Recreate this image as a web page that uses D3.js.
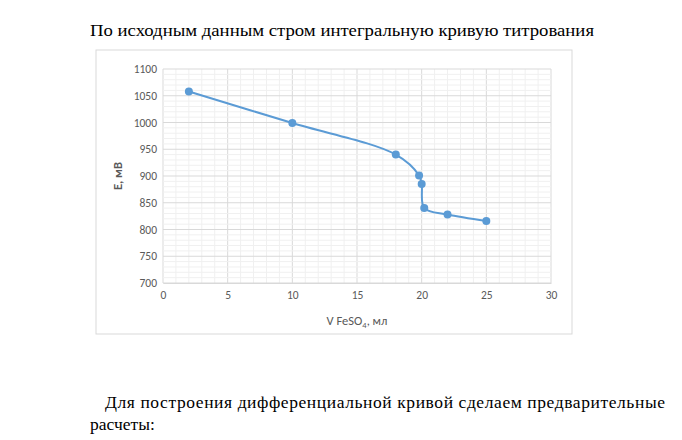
<!DOCTYPE html>
<html><head><meta charset="utf-8">
<script src="https://cdn.jsdelivr.net/npm/d3@7"></script>
<style>
body{margin:0;background:#fff;}
svg text{font-family:"Liberation Serif","Times New Roman",serif;}
.ax text{font-family:Calibri,Carlito,"Open Sans",sans-serif;font-size:11.5px;fill:#595959;}
</style></head><body>
<svg id="c" width="682" height="440"></svg>
<script>
// titration data
const volumes = [2, 10, 18, 19.8, 20, 20.2, 22, 25];
const potentials = [1058, 999, 940, 901, 885, 840, 828, 816];
const xTicks = [0, 5, 10, 15, 20, 25, 30];
const yTicks = [700, 750, 800, 850, 900, 950, 1000, 1050, 1100];

const svg = d3.select('#c');
const x = d3.scaleLinear().domain([0, 30]).range([163, 551]);
const y = d3.scaleLinear().domain([700, 1100]).range([283, 69]);

svg.append('text').attr('x', 90).attr('y', 36).attr('font-size', 17.5)
    .attr('textLength', 504).attr('lengthAdjust', 'spacingAndGlyphs')
    .text('По исходным данным стром интегральную кривую титрования');

svg.append('rect').attr('x', 96).attr('y', 50).attr('width', 476).attr('height', 284)
    .attr('fill', 'none').attr('stroke', '#d9d9d9');

// minor grid
const g = svg.append('g');
d3.range(0, 31, 1).forEach(v => g.append('line').attr('x1', x(v)).attr('x2', x(v))
    .attr('y1', y(700)).attr('y2', y(1100)).attr('stroke', v % 5 ? '#f0f0f0' : '#d9d9d9'));
d3.range(700, 1101, 10).forEach(v => g.append('line').attr('y1', y(v)).attr('y2', y(v))
    .attr('x1', x(0)).attr('x2', x(30)).attr('stroke', v % 50 ? '#f0f0f0' : '#d9d9d9'));

const xa = svg.append('g').attr('class', 'ax').attr('transform', `translate(0,${y(700)})`)
    .call(d3.axisBottom(x).tickValues(xTicks).tickSize(0).tickPadding(8).tickFormat(d3.format('d')));
const ya = svg.append('g').attr('class', 'ax').attr('transform', `translate(${x(0)},0)`)
    .call(d3.axisLeft(y).tickValues(yTicks).tickSize(0).tickPadding(6).tickFormat(d3.format('d')));
xa.select('.domain').attr('stroke', '#d9d9d9');
ya.select('.domain').remove();

const lbl = svg.append('text').attr('x', 357).attr('y', 325).attr('text-anchor', 'middle')
    .style('font-family', 'Calibri,Carlito,"Open Sans",sans-serif').attr('font-size', 12.5).attr('fill', '#595959');
lbl.append('tspan').text('V FeSO');
lbl.append('tspan').attr('font-size', 8.5).attr('dy', 3).text('4');
lbl.append('tspan').attr('dy', -3).text(', мл');
svg.append('text').attr('transform', `translate(122,176) rotate(-90)`).attr('text-anchor', 'middle')
    .style('font-family', 'Calibri,Carlito,"Open Sans",sans-serif').attr('font-size', 12.5).attr('fill', '#595959')
    .attr('font-weight', 'bold').text('E, мВ');

const pts = volumes.map((v, i) => [v, potentials[i]]);
svg.append('path').datum(pts)
    .attr('d', d3.line().x(d => x(d[0])).y(d => y(d[1])).curve(d3.curveCatmullRom.alpha(0.5)))
    .attr('fill', 'none').attr('stroke', '#5b9bd5').attr('stroke-width', 2);
svg.selectAll('circle.p').data(pts).join('circle').attr('class', 'p')
    .attr('cx', d => x(d[0])).attr('cy', d => y(d[1])).attr('r', 4).attr('fill', '#5b9bd5');

svg.append('text').attr('x', 105).attr('y', 408).attr('font-size', 17.5)
    .attr('textLength', 560).attr('lengthAdjust', 'spacing')
    .text('Для построения дифференциальной кривой сделаем предварительные');
svg.append('text').attr('x', 90).attr('y', 430).attr('font-size', 17.5).text('расчеты:');
</script></body></html>
